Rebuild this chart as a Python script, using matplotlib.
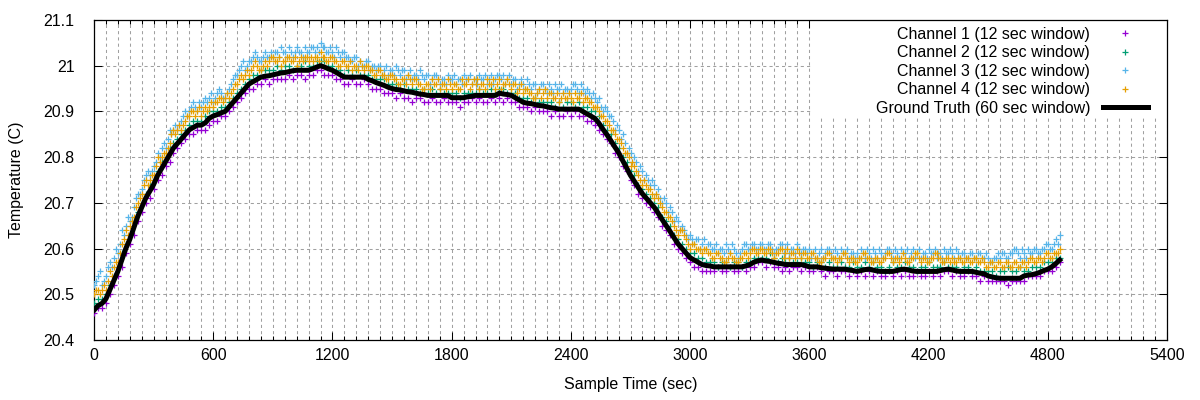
import matplotlib.pyplot as plt
from matplotlib.patches import Rectangle
from matplotlib.ticker import MultipleLocator, FormatStrFormatter

# sample times (sec): main readings every 20 sec, second readings in between
sample_time = list(range(0, 4861, 20))
sample_time_b = list(range(10, 4851, 20))

ground_truth = [
    20.465, 20.475, 20.480, 20.490, 20.510, 20.530, 20.550, 20.575, 20.600, 20.620, 20.645, 20.670,
    20.690, 20.710, 20.725, 20.740, 20.760, 20.775, 20.790, 20.805, 20.820, 20.830, 20.840, 20.850,
    20.860, 20.865, 20.870, 20.870, 20.875, 20.885, 20.890, 20.893, 20.897, 20.900, 20.910, 20.920,
    20.930, 20.940, 20.950, 20.960, 20.965, 20.970, 20.975, 20.977, 20.978, 20.980, 20.982, 20.984,
    20.985, 20.987, 20.989, 20.990, 20.990, 20.990, 20.990, 20.993, 20.997, 21.000, 20.997, 20.993,
    20.990, 20.985, 20.980, 20.975, 20.975, 20.975, 20.975, 20.975, 20.975, 20.970, 20.967, 20.963,
    20.960, 20.957, 20.953, 20.950, 20.948, 20.947, 20.945, 20.943, 20.942, 20.940, 20.938, 20.937,
    20.935, 20.935, 20.935, 20.935, 20.935, 20.935, 20.930, 20.930, 20.930, 20.930, 20.932, 20.933,
    20.935, 20.935, 20.935, 20.935, 20.935, 20.935, 20.940, 20.938, 20.937, 20.935, 20.930, 20.925,
    20.920, 20.918, 20.917, 20.915, 20.913, 20.912, 20.910, 20.908, 20.907, 20.905, 20.905, 20.905,
    20.905, 20.905, 20.905, 20.900, 20.895, 20.890, 20.885, 20.875, 20.862, 20.850, 20.837, 20.823,
    20.810, 20.793, 20.777, 20.760, 20.747, 20.733, 20.720, 20.710, 20.700, 20.690, 20.677, 20.663,
    20.650, 20.637, 20.623, 20.610, 20.600, 20.590, 20.580, 20.575, 20.570, 20.565, 20.563, 20.562,
    20.560, 20.560, 20.560, 20.560, 20.560, 20.560, 20.560, 20.560, 20.562, 20.565, 20.570, 20.573,
    20.575, 20.573, 20.572, 20.570, 20.568, 20.567, 20.565, 20.565, 20.565, 20.565, 20.565, 20.563,
    20.560, 20.560, 20.560, 20.558, 20.557, 20.556, 20.555, 20.555, 20.555, 20.555, 20.553, 20.552,
    20.550, 20.552, 20.554, 20.555, 20.553, 20.551, 20.550, 20.550, 20.550, 20.550, 20.552, 20.554,
    20.555, 20.553, 20.551, 20.550, 20.550, 20.550, 20.550, 20.550, 20.550, 20.552, 20.554, 20.555,
    20.553, 20.551, 20.550, 20.550, 20.550, 20.550, 20.548, 20.546, 20.545, 20.540, 20.538, 20.536,
    20.535, 20.535, 20.535, 20.535, 20.535, 20.535, 20.540, 20.542, 20.543, 20.545, 20.548, 20.552,
    20.555, 20.560, 20.567, 20.575,
]

channel_1 = [
    20.46, 20.47, 20.47, 20.48, 20.50, 20.52, 20.54, 20.56, 20.59, 20.61, 20.63, 20.66,
    20.68, 20.70, 20.71, 20.73, 20.75, 20.76, 20.78, 20.79, 20.81, 20.82, 20.83, 20.84,
    20.85, 20.85, 20.86, 20.86, 20.86, 20.87, 20.88, 20.88, 20.89, 20.89, 20.90, 20.91,
    20.92, 20.93, 20.94, 20.95, 20.95, 20.96, 20.96, 20.97, 20.96, 20.97, 20.97, 20.97,
    20.97, 20.98, 20.97, 20.98, 20.98, 20.97, 20.98, 20.98, 20.99, 20.99, 20.98, 20.98,
    20.98, 20.97, 20.97, 20.96, 20.96, 20.97, 20.96, 20.96, 20.97, 20.96, 20.95, 20.95,
    20.95, 20.94, 20.94, 20.94, 20.93, 20.94, 20.93, 20.93, 20.92, 20.93, 20.93, 20.92,
    20.92, 20.93, 20.92, 20.92, 20.93, 20.92, 20.92, 20.92, 20.91, 20.92, 20.92, 20.93,
    20.92, 20.93, 20.92, 20.92, 20.93, 20.92, 20.93, 20.92, 20.93, 20.92, 20.92, 20.91,
    20.91, 20.91, 20.90, 20.91, 20.90, 20.90, 20.90, 20.89, 20.90, 20.89, 20.89, 20.90,
    20.89, 20.90, 20.89, 20.89, 20.88, 20.88, 20.87, 20.86, 20.85, 20.84, 20.83, 20.81,
    20.80, 20.78, 20.77, 20.75, 20.74, 20.72, 20.71, 20.70, 20.69, 20.68, 20.67, 20.65,
    20.64, 20.63, 20.61, 20.60, 20.59, 20.58, 20.57, 20.56, 20.56, 20.55, 20.55, 20.55,
    20.55, 20.56, 20.55, 20.55, 20.56, 20.55, 20.55, 20.56, 20.55, 20.56, 20.56, 20.57,
    20.57, 20.56, 20.57, 20.56, 20.56, 20.55, 20.56, 20.55, 20.56, 20.56, 20.55, 20.56,
    20.55, 20.55, 20.56, 20.55, 20.54, 20.55, 20.55, 20.54, 20.55, 20.55, 20.54, 20.55,
    20.54, 20.55, 20.54, 20.55, 20.54, 20.55, 20.54, 20.54, 20.55, 20.54, 20.55, 20.54,
    20.55, 20.54, 20.54, 20.55, 20.54, 20.54, 20.55, 20.54, 20.55, 20.54, 20.55, 20.55,
    20.54, 20.55, 20.54, 20.54, 20.55, 20.54, 20.54, 20.53, 20.54, 20.53, 20.53, 20.53,
    20.53, 20.53, 20.52, 20.53, 20.53, 20.53, 20.53, 20.54, 20.54, 20.54, 20.54, 20.55,
    20.55, 20.55, 20.56, 20.57,
]

channel_2 = [
    20.48, 20.49, 20.49, 20.50, 20.52, 20.54, 20.56, 20.59, 20.61, 20.63, 20.66, 20.68,
    20.70, 20.72, 20.74, 20.75, 20.77, 20.79, 20.80, 20.82, 20.83, 20.84, 20.85, 20.86,
    20.87, 20.88, 20.88, 20.88, 20.89, 20.90, 20.90, 20.90, 20.91, 20.91, 20.92, 20.93,
    20.94, 20.95, 20.96, 20.97, 20.98, 20.98, 20.99, 20.99, 20.99, 20.99, 21.00, 20.99,
    21.00, 21.00, 20.99, 21.00, 21.00, 21.01, 21.00, 21.00, 21.01, 21.01, 21.01, 21.00,
    21.00, 20.99, 20.99, 20.98, 20.99, 20.98, 20.99, 20.98, 20.98, 20.98, 20.97, 20.97,
    20.97, 20.97, 20.96, 20.96, 20.96, 20.95, 20.96, 20.95, 20.95, 20.95, 20.94, 20.95,
    20.94, 20.95, 20.94, 20.95, 20.94, 20.94, 20.94, 20.94, 20.93, 20.94, 20.94, 20.94,
    20.94, 20.95, 20.94, 20.94, 20.95, 20.94, 20.95, 20.95, 20.94, 20.94, 20.94, 20.93,
    20.93, 20.93, 20.92, 20.93, 20.92, 20.92, 20.92, 20.92, 20.91, 20.92, 20.91, 20.92,
    20.92, 20.91, 20.92, 20.91, 20.91, 20.90, 20.90, 20.89, 20.87, 20.86, 20.85, 20.83,
    20.82, 20.80, 20.79, 20.77, 20.76, 20.74, 20.73, 20.72, 20.71, 20.70, 20.69, 20.67,
    20.66, 20.65, 20.63, 20.62, 20.61, 20.60, 20.59, 20.59, 20.58, 20.58, 20.57, 20.57,
    20.57, 20.56, 20.57, 20.57, 20.56, 20.57, 20.57, 20.56, 20.57, 20.57, 20.58, 20.58,
    20.58, 20.58, 20.59, 20.58, 20.57, 20.58, 20.57, 20.58, 20.57, 20.57, 20.58, 20.57,
    20.57, 20.56, 20.57, 20.57, 20.56, 20.57, 20.56, 20.56, 20.57, 20.56, 20.56, 20.57,
    20.56, 20.56, 20.57, 20.56, 20.57, 20.56, 20.56, 20.55, 20.56, 20.57, 20.56, 20.56,
    20.57, 20.56, 20.56, 20.55, 20.56, 20.56, 20.57, 20.56, 20.56, 20.56, 20.57, 20.56,
    20.56, 20.56, 20.55, 20.56, 20.56, 20.55, 20.56, 20.55, 20.55, 20.55, 20.55, 20.54,
    20.55, 20.55, 20.56, 20.55, 20.55, 20.56, 20.55, 20.55, 20.56, 20.56, 20.56, 20.57,
    20.57, 20.57, 20.58, 20.58,
]

channel_3 = [
    20.52, 20.54, 20.52, 20.54, 20.57, 20.58, 20.59, 20.64, 20.65, 20.66, 20.69, 20.72,
    20.73, 20.76, 20.76, 20.78, 20.81, 20.82, 20.82, 20.86, 20.86, 20.86, 20.88, 20.90,
    20.90, 20.92, 20.90, 20.91, 20.93, 20.93, 20.92, 20.94, 20.94, 20.93, 20.95, 20.97,
    20.98, 21.00, 20.99, 21.01, 21.02, 21.02, 21.01, 21.03, 21.02, 21.02, 21.03, 21.04,
    21.03, 21.04, 21.02, 21.04, 21.03, 21.04, 21.03, 21.04, 21.04, 21.05, 21.04, 21.03,
    21.03, 21.04, 21.02, 21.03, 21.02, 21.01, 21.02, 21.01, 21.00, 21.01, 21.00, 20.99,
    21.00, 20.99, 20.98, 20.99, 21.00, 20.98, 20.99, 20.98, 20.97, 20.98, 20.99, 20.97,
    20.98, 20.97, 20.98, 20.96, 20.97, 20.98, 20.97, 20.96, 20.97, 20.98, 20.97, 20.96,
    20.97, 20.98, 20.97, 20.96, 20.98, 20.97, 20.98, 20.98, 20.97, 20.96, 20.97, 20.96,
    20.96, 20.97, 20.95, 20.96, 20.95, 20.96, 20.94, 20.95, 20.96, 20.95, 20.94, 20.95,
    20.95, 20.96, 20.94, 20.95, 20.95, 20.93, 20.93, 20.93, 20.90, 20.90, 20.89, 20.86,
    20.86, 20.85, 20.81, 20.81, 20.80, 20.77, 20.77, 20.76, 20.74, 20.74, 20.73, 20.70,
    20.70, 20.69, 20.66, 20.66, 20.65, 20.63, 20.63, 20.61, 20.62, 20.61, 20.60, 20.61,
    20.60, 20.59, 20.60, 20.61, 20.59, 20.60, 20.58, 20.60, 20.61, 20.60, 20.61, 20.60,
    20.61, 20.60, 20.61, 20.59, 20.60, 20.61, 20.60, 20.59, 20.60, 20.61, 20.59, 20.60,
    20.60, 20.59, 20.58, 20.60, 20.59, 20.60, 20.58, 20.59, 20.60, 20.59, 20.58, 20.59,
    20.59, 20.60, 20.58, 20.59, 20.60, 20.58, 20.59, 20.59, 20.60, 20.58, 20.59, 20.60,
    20.59, 20.58, 20.60, 20.59, 20.58, 20.59, 20.60, 20.59, 20.58, 20.59, 20.60, 20.59,
    20.59, 20.60, 20.58, 20.59, 20.58, 20.59, 20.58, 20.59, 20.58, 20.58, 20.57, 20.58,
    20.58, 20.59, 20.58, 20.59, 20.60, 20.58, 20.59, 20.60, 20.59, 20.60, 20.59, 20.60,
    20.61, 20.60, 20.62, 20.63,
]

channel_3_b = [
    20.53, 20.55, 20.53, 20.56, 20.56, 20.60, 20.61, 20.63, 20.67, 20.67, 20.71, 20.72,
    20.75, 20.77, 20.77, 20.79, 20.80, 20.83, 20.84, 20.85, 20.87, 20.87, 20.89, 20.89,
    20.91, 20.91, 20.92, 20.92, 20.92, 20.94, 20.93, 20.95, 20.93, 20.94, 20.96, 20.98,
    20.99, 21.01, 21.00, 21.01, 21.03, 21.01, 21.02, 21.02, 21.03, 21.03, 21.02, 21.03,
    21.02, 21.03, 21.03, 21.03, 21.02, 21.03, 21.04, 21.03, 21.03, 21.04, 21.03, 21.04,
    21.02, 21.03, 21.03, 21.02, 21.01, 21.02, 21.00, 21.00, 21.01, 20.99, 21.00, 21.00,
    20.98, 21.00, 20.99, 20.98, 20.99, 20.99, 20.97, 20.99, 20.98, 20.97, 20.98, 20.98,
    20.96, 20.98, 20.97, 20.97, 20.96, 20.97, 20.98, 20.97, 20.96, 20.97, 20.98, 20.97,
    20.96, 20.97, 20.98, 20.97, 20.96, 20.98, 20.97, 20.96, 20.98, 20.97, 20.95, 20.97,
    20.95, 20.96, 20.96, 20.94, 20.96, 20.95, 20.96, 20.94, 20.95, 20.96, 20.95, 20.94,
    20.96, 20.95, 20.96, 20.94, 20.94, 20.94, 20.92, 20.91, 20.91, 20.89, 20.88, 20.87,
    20.84, 20.83, 20.82, 20.79, 20.79, 20.78, 20.75, 20.75, 20.75, 20.72, 20.71, 20.71,
    20.68, 20.68, 20.67, 20.64, 20.64, 20.62, 20.62, 20.62, 20.60, 20.62, 20.61, 20.60,
    20.61, 20.60, 20.59, 20.60, 20.61, 20.59, 20.59, 20.61, 20.60, 20.61, 20.60, 20.61,
    20.60, 20.61, 20.60, 20.60, 20.61, 20.59, 20.61, 20.60, 20.59, 20.60, 20.60, 20.59,
    20.58, 20.60, 20.59, 20.58, 20.60, 20.59, 20.60, 20.58, 20.59, 20.60, 20.59, 20.58,
    20.58, 20.59, 20.60, 20.58, 20.59, 20.60, 20.58, 20.60, 20.59, 20.60, 20.58, 20.59,
    20.60, 20.59, 20.58, 20.60, 20.59, 20.58, 20.59, 20.60, 20.59, 20.58, 20.59, 20.60,
    20.58, 20.59, 20.59, 20.58, 20.59, 20.58, 20.59, 20.58, 20.59, 20.57, 20.58, 20.59,
    20.59, 20.58, 20.59, 20.60, 20.59, 20.60, 20.58, 20.59, 20.60, 20.59, 20.60, 20.61,
    20.60, 20.61, 20.61,
]

channel_4 = [
    20.50, 20.51, 20.51, 20.51, 20.55, 20.56, 20.57, 20.61, 20.64, 20.65, 20.67, 20.70,
    20.72, 20.75, 20.75, 20.76, 20.80, 20.80, 20.81, 20.83, 20.86, 20.86, 20.86, 20.88,
    20.89, 20.90, 20.90, 20.89, 20.91, 20.91, 20.91, 20.92, 20.93, 20.93, 20.93, 20.95,
    20.96, 20.98, 20.98, 20.98, 21.00, 21.00, 20.99, 21.01, 21.01, 21.02, 21.01, 21.00,
    21.01, 21.02, 21.01, 21.00, 21.02, 21.02, 21.01, 21.01, 21.02, 21.03, 21.02, 21.01,
    21.02, 21.01, 21.00, 21.01, 21.00, 20.99, 21.00, 21.01, 20.99, 21.00, 20.99, 20.98,
    20.99, 20.98, 20.97, 20.98, 20.97, 20.96, 20.97, 20.98, 20.96, 20.97, 20.96, 20.95,
    20.96, 20.97, 20.96, 20.95, 20.96, 20.97, 20.95, 20.96, 20.95, 20.96, 20.97, 20.96,
    20.96, 20.95, 20.96, 20.97, 20.96, 20.95, 20.97, 20.96, 20.97, 20.95, 20.96, 20.95,
    20.94, 20.95, 20.94, 20.93, 20.95, 20.94, 20.93, 20.94, 20.93, 20.92, 20.94, 20.93,
    20.93, 20.94, 20.93, 20.92, 20.93, 20.92, 20.91, 20.90, 20.89, 20.88, 20.86, 20.85,
    20.84, 20.82, 20.81, 20.78, 20.78, 20.76, 20.74, 20.74, 20.73, 20.71, 20.71, 20.69,
    20.68, 20.67, 20.65, 20.63, 20.64, 20.62, 20.60, 20.61, 20.60, 20.59, 20.60, 20.59,
    20.58, 20.59, 20.58, 20.57, 20.59, 20.58, 20.57, 20.58, 20.59, 20.59, 20.60, 20.59,
    20.60, 20.59, 20.60, 20.58, 20.59, 20.60, 20.59, 20.58, 20.59, 20.60, 20.58, 20.59,
    20.58, 20.59, 20.58, 20.57, 20.58, 20.59, 20.58, 20.57, 20.58, 20.59, 20.57, 20.58,
    20.57, 20.58, 20.59, 20.58, 20.57, 20.58, 20.57, 20.58, 20.59, 20.57, 20.58, 20.58,
    20.58, 20.57, 20.58, 20.59, 20.57, 20.58, 20.57, 20.58, 20.59, 20.58, 20.57, 20.58,
    20.58, 20.57, 20.58, 20.57, 20.58, 20.57, 20.58, 20.57, 20.57, 20.56, 20.57, 20.56,
    20.57, 20.56, 20.57, 20.56, 20.57, 20.56, 20.57, 20.57, 20.58, 20.57, 20.58, 20.58,
    20.59, 20.58, 20.59, 20.60,
]

channel_4_b = [
    20.51, 20.50, 20.52, 20.53, 20.54, 20.57, 20.59, 20.62, 20.63, 20.66, 20.69, 20.71,
    20.74, 20.74, 20.76, 20.78, 20.79, 20.81, 20.82, 20.85, 20.85, 20.87, 20.87, 20.89,
    20.90, 20.89, 20.91, 20.90, 20.90, 20.92, 20.92, 20.93, 20.92, 20.94, 20.94, 20.96,
    20.97, 20.97, 20.99, 20.99, 21.01, 20.99, 21.00, 21.00, 21.02, 21.01, 21.02, 21.01,
    21.02, 21.01, 21.02, 21.01, 21.01, 21.02, 21.02, 21.02, 21.01, 21.02, 21.01, 21.02,
    21.01, 21.00, 21.01, 21.00, 21.01, 21.00, 20.99, 21.00, 21.00, 20.99, 20.98, 20.99,
    20.98, 20.97, 20.98, 20.97, 20.96, 20.97, 20.96, 20.97, 20.97, 20.96, 20.95, 20.96,
    20.95, 20.96, 20.97, 20.96, 20.95, 20.96, 20.96, 20.95, 20.97, 20.96, 20.95, 20.97,
    20.97, 20.96, 20.95, 20.96, 20.97, 20.96, 20.95, 20.96, 20.96, 20.96, 20.94, 20.96,
    20.95, 20.94, 20.93, 20.94, 20.93, 20.95, 20.94, 20.93, 20.94, 20.93, 20.93, 20.94,
    20.92, 20.93, 20.94, 20.93, 20.92, 20.91, 20.91, 20.89, 20.88, 20.87, 20.86, 20.84,
    20.83, 20.81, 20.80, 20.79, 20.77, 20.75, 20.75, 20.73, 20.72, 20.72, 20.70, 20.68,
    20.67, 20.66, 20.64, 20.64, 20.63, 20.61, 20.61, 20.60, 20.60, 20.60, 20.59, 20.58,
    20.59, 20.58, 20.57, 20.58, 20.58, 20.57, 20.58, 20.59, 20.58, 20.60, 20.59, 20.60,
    20.59, 20.60, 20.59, 20.59, 20.60, 20.58, 20.60, 20.59, 20.58, 20.59, 20.59, 20.58,
    20.59, 20.58, 20.57, 20.58, 20.59, 20.58, 20.58, 20.58, 20.59, 20.58, 20.58, 20.57,
    20.58, 20.59, 20.58, 20.57, 20.58, 20.57, 20.58, 20.59, 20.58, 20.58, 20.57, 20.59,
    20.57, 20.58, 20.59, 20.58, 20.58, 20.57, 20.58, 20.59, 20.58, 20.57, 20.58, 20.57,
    20.57, 20.58, 20.57, 20.58, 20.57, 20.58, 20.57, 20.58, 20.56, 20.57, 20.56, 20.57,
    20.56, 20.57, 20.56, 20.57, 20.56, 20.57, 20.56, 20.58, 20.57, 20.58, 20.57, 20.59,
    20.58, 20.59, 20.59,
]

channel_labels = [
    'Channel 1 (12 sec window)',
    'Channel 2 (12 sec window)',
    'Channel 3 (12 sec window)',
    'Channel 4 (12 sec window)',
]
truth_label = 'Ground Truth (60 sec window)'
channel_colors = ['#9400d3', '#009e73', '#56b4e9', '#e69f00']

plt.rcParams['font.family'] = ['Liberation Sans', 'DejaVu Sans']
plt.rcParams['font.size'] = 11.5


def plot_channel(ax, times, values, color, label=None):
    ax.plot(times, values, linestyle='none', marker='+', markersize=4.5,
            markeredgewidth=0.9, color=color, label=label, zorder=3)


def plot_temperatures():
    fig = plt.figure(figsize=(12, 4), dpi=100)
    ax = fig.add_axes([94 / 1200, 60 / 400, 1073 / 1200, 320 / 400])

    plot_channel(ax, sample_time, channel_1, channel_colors[0], channel_labels[0])
    plot_channel(ax, sample_time, channel_2, channel_colors[1], channel_labels[1])
    plot_channel(ax, sample_time, channel_3, channel_colors[2], channel_labels[2])
    plot_channel(ax, sample_time_b, channel_3_b, channel_colors[2])
    plot_channel(ax, sample_time, channel_4, channel_colors[3], channel_labels[3])
    plot_channel(ax, sample_time_b, channel_4_b, channel_colors[3])
    ax.plot(sample_time, ground_truth, color='black', linewidth=3.6, label=truth_label,
            zorder=4, solid_joinstyle='round')

    ax.set_xlim(0, 5400)
    ax.set_ylim(20.4, 21.1)
    ax.xaxis.set_major_locator(MultipleLocator(600))
    ax.xaxis.set_minor_locator(MultipleLocator(60))
    ax.yaxis.set_major_locator(MultipleLocator(0.1))
    ax.yaxis.set_major_formatter(FormatStrFormatter('%g'))

    ax.set_axisbelow(True)
    ax.grid(True, which='both', axis='x', color='#a0a0a0', linestyle=(0, (3, 3)), linewidth=0.75)
    ax.grid(True, which='major', axis='y', color='#a0a0a0', linestyle=(0, (3, 3)), linewidth=0.75)

    ax.tick_params(which='both', direction='in', top=True, right=True, width=0.75, colors='black')
    ax.tick_params(which='major', length=6)
    ax.tick_params(which='minor', length=3)
    ax.tick_params(axis='y', pad=14)
    ax.tick_params(axis='x', pad=6)
    for spine in ax.spines.values():
        spine.set_linewidth(0.9)

    # white area behind the key, like gnuplot's opaque key
    ax.add_patch(Rectangle((0.669, 0.694), 0.331, 0.306, transform=ax.transAxes,
                           facecolor='white', edgecolor='none', zorder=1))

    ax.legend(loc='upper right', bbox_to_anchor=(0.982, 0.979), frameon=False,
              markerfirst=False, numpoints=1, handlelength=2.8, handletextpad=0.8,
              labelspacing=0.22, borderpad=0, borderaxespad=0)

    ax.set_xlabel('Sample Time (sec)')
    ax.set_ylabel('Temperature (C)')
    ax.xaxis.set_label_coords(0.5, -0.115)
    ax.yaxis.set_label_coords(-0.065, 0.5)

    fig.savefig('out.png', dpi=100)


def main():
    plot_temperatures()


main()
